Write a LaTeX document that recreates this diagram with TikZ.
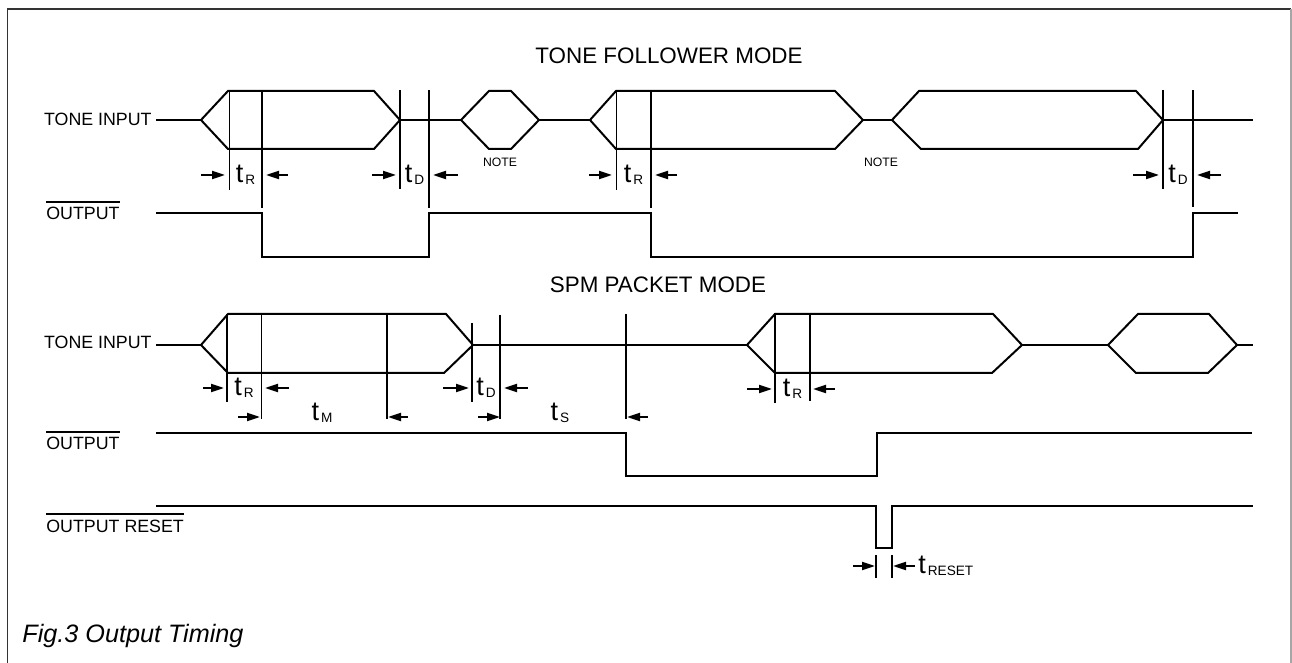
\documentclass[tikz,border=0pt]{standalone}
\usepackage{fontspec}
\setmainfont{Liberation Sans}
\usetikzlibrary{arrows.meta}
\newcommand{\tsub}[1]{{\fontsize{13.5}{13.5}\selectfont t}\kern1pt\raisebox{-0.7pt}{\fontsize{6.8}{6.8}\selectfont #1}}

\begin{document}
\begin{tikzpicture}[x=0.5pt,y=-0.5pt,
      sig/.style={line width=1pt,line join=miter},
      fine/.style={line width=0.5pt},
      arr/.style={line width=1pt,-{Triangle[length=6.5pt,width=4pt]}},
      lab/.style={font=\fontsize{8.9}{8.9}\selectfont,inner sep=0pt},
      ttl/.style={font=\fontsize{11.2}{11.2}\selectfont,inner sep=0pt},
      tlab/.style={inner sep=0pt,anchor=base}]
   \useasboundingbox (0,0) rectangle (1292,663);

   \draw[line width=0.8pt,black!80] (7.5,663) -- (7.5,9) -- (1291,9);
   \draw[line width=0.8pt,black!35] (1291,9) -- (1291,663);

   \node[ttl] (tfm) at (669,56) {TONE FOLLOWER MODE};
   \node[ttl] (spm) at (658,285) {SPM PACKET MODE};

   \node[lab,anchor=east] (in1) at (152,119.5) {TONE INPUT};
   \node[lab,anchor=west] (out1) at (46,213.5) {OUTPUT};
   \node[lab,anchor=east] (in2) at (152,342) {TONE INPUT};
   \node[lab,anchor=west] (out2) at (46,443.5) {OUTPUT};
   \node[lab,anchor=west] (rst) at (46,526) {OUTPUT RESET};
   \foreach \n in {out1,out2,rst}
      \draw[sig] ([yshift=2.4pt]\n.north west) -- ([yshift=2.4pt]\n.north east);

   \node[font=\fontsize{6.1}{6.1}\selectfont,inner sep=0pt] (note1) at (500,162) {NOTE};
   \node[font=\fontsize{6.1}{6.1}\selectfont,inner sep=0pt] (note2) at (881,162) {NOTE};

   % tone follower mode
   \draw[sig] (156,120) -- (201,120) (400,120) -- (461,120) (539,120) -- (590,120)
              (863,120) -- (892,120) (1163,120) -- (1253,120);
   \draw[sig] (201,120) -- (228,91) -- (374,91) -- (400,120) -- (374,149) -- (228,149) -- cycle;
   \draw[sig] (461,120) -- (489,91) -- (511,91) -- (539,120) -- (511,149) -- (489,149) -- cycle;
   \draw[sig] (590,120) -- (616,91) -- (835,91) -- (863,120) -- (835,149) -- (616,149) -- cycle;
   \draw[sig] (892,120) -- (919,91) -- (1136,91) -- (1163,120) -- (1138,149) -- (921,149) -- cycle;

   \draw[fine] (229,91) -- (229,190) (616,91) -- (616,190);
   \draw[sig] (262,91) -- (262,208) (400,90) -- (400,189) (429,90) -- (429,208)
              (651,91) -- (651,208) (1163,90) -- (1163,189) (1193,90) -- (1193,207);

   \draw[sig] (156,213) -- (262,213) -- (262,257) -- (429,257) -- (429,213) -- (651,213)
              -- (651,257) -- (1193,257) -- (1193,213) -- (1238,213);

   \draw[arr] (201,175) -- (225,175);  \draw[arr] (288,175) -- (266,175);
   \draw[arr] (372,175) -- (396,175);  \draw[arr] (458,175) -- (433,175);
   \draw[arr] (589,175) -- (612,175);  \draw[arr] (677,175) -- (655,175);
   \draw[arr] (1133,175) -- (1159,175); \draw[arr] (1221,175) -- (1197,175);
   \node[tlab] (tr1) at (245.5,183) {\tsub{R}};
   \node[tlab] (td1) at (414.5,183) {\tsub{D}};
   \node[tlab] (tr2) at (633.5,183) {\tsub{R}};
   \node[tlab] (td2) at (1178,183) {\tsub{D}};

   % spm packet mode
   \draw[sig] (156,345) -- (201,345) (473,345) -- (747,345) (1022,345) -- (1108,345)
              (1237,345) -- (1253,345);
   \draw[sig] (201,345) -- (228,314) -- (446,314) -- (473,345) -- (444,373) -- (228,373) -- cycle;
   \draw[sig] (747,345) -- (775,314) -- (993,314) -- (1022,345) -- (992,373) -- (775,373) -- cycle;
   \draw[sig] (1108,345) -- (1138,314) -- (1209,314) -- (1237,345) -- (1208,373) -- (1136,373) -- cycle;

   \draw[fine] (261,314) -- (261,419);
   \draw[sig] (227,314) -- (227,402) (387,314) -- (387,419) (472,323) -- (472,402)
              (500,315) -- (500,419) (626,314) -- (626,419) (775,313) -- (775,403)
              (810,313) -- (810,401);

   \draw[sig] (156,433) -- (626,433) -- (626,476) -- (877,476) -- (877,433) -- (1252,433);
   \draw[sig] (156,506) -- (876,506) -- (876,548) -- (892,548) -- (892,506) -- (1253,506);
   \draw[sig] (876,555) -- (876,578) (892,555) -- (892,578);

   \draw[arr] (203,388) -- (224,388);  \draw[arr] (289,388) -- (265,388);
   \draw[arr] (443,388) -- (469,388);  \draw[arr] (528,388) -- (504,388);
   \draw[arr] (747,389) -- (772,389);  \draw[arr] (835,389) -- (813,389);
   \draw[arr] (238,417) -- (260,417);  \draw[arr] (408,417) -- (388,417);
   \draw[arr] (478,417) -- (500,417);  \draw[arr] (648,417) -- (627,417);
   \draw[arr] (853,566) -- (875,566);  \draw[arr] (915,566) -- (893,566);
   \node[tlab] (tr3) at (244,396) {\tsub{R}};
   \node[tlab] (td3) at (486,396) {\tsub{D}};
   \node[tlab] (tr4) at (792.5,397) {\tsub{R}};
   \node[tlab] (tm) at (322,421) {\tsub{M}};
   \node[tlab] (ts) at (560,421) {\tsub{S}};
   \node[tlab,anchor=base west] (trst) at (918,574) {\tsub{RESET}};

   \node[inner sep=0pt,anchor=base west,font=\fontsize{12.6}{12.6}\selectfont\itshape] (cap) at (22,642) {Fig.3 Output Timing};
\end{tikzpicture}
\end{document}
